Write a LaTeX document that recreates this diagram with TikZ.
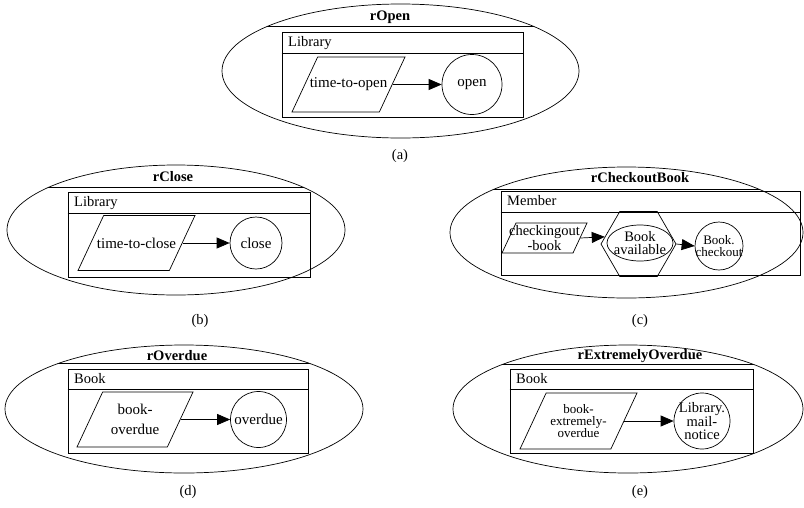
\documentclass[tikz,border=0pt]{standalone}
\usepackage{fontspec}
\setmainfont{Liberation Serif}
\usetikzlibrary{arrows.meta,shapes.geometric,calc}
\newcommand{\PTitle}{\fontsize{14.5}{17}\selectfont\bfseries}
\newcommand{\PText}{\fontsize{15}{20}\selectfont}
\newcommand{\PClass}{\fontsize{14.5}{17}\selectfont}
\newcommand{\PTight}{\fontsize{13}{12}\selectfont}
\newcommand{\PSquash}{\fontsize{14.5}{13}\selectfont}
\newcommand{\evslant}{65}

\begin{document}
\begin{tikzpicture}[x=1pt, y=-1pt,
  font=\PText,
  rulebox/.style={draw, ellipse, line width=0.7pt, inner sep=0pt},
  objbox/.style={draw, rectangle, line width=0.7pt, inner sep=0pt},
  thinline/.style={line width=0.7pt},
  title/.style={font=\PTitle, inner sep=0pt},
  clsname/.style={anchor=west, font=\PClass, inner sep=0pt},
  % parallelogram of given width and height (text goes in as a centre label)
  event/.style 2 args={draw, trapezium, trapezium left angle=\evslant,
                trapezium right angle=180-\evslant, line width=0.7pt,
                inner ysep=#2/2, inner xsep={#1/2-#2/tan(\evslant)}},
  evtext/.style={align=center, inner sep=0pt},
  state/.style={draw, circle, line width=0.7pt, inner sep=0pt, align=center},
  cond/.style={draw, regular polygon, regular polygon sides=6, line width=0.7pt,
               inner sep=0pt},
  condin/.style={draw, ellipse, line width=0.7pt, align=center},
  flow/.style={-{Triangle[length=13pt,width=11pt]}, line width=0.7pt},
  caption/.style={font=\PClass}
]
\useasboundingbox (0,0) rectangle (804,507);

% (a) rOpen
\node[rulebox, minimum width=357pt, minimum height=134pt] (openRule) at (400.5,71) {};
\node[title] (openTitle) at (390,17) {rOpen};
\node[objbox, minimum width=241pt, minimum height=85pt] (openObj) at (402.5,74.5) {};
\node[clsname] (openCls) at (288,43) {Library};
\node[event={113}{55}, label={[evtext]center:time-to-open}] (openEvt) at (348.5,84.5) {};
\node[state, minimum size=60pt] (openState) at (472,84.5) {open};
\draw[flow] (openEvt.east) -- (openState.west);
\node[caption] (openCap) at (400,156) {(a)};

% (b) rClose
\node[rulebox, minimum width=338pt, minimum height=130pt] (closeRule) at (176,230) {};
\node[title] (closeTitle) at (173,177) {rClose};
\node[objbox, minimum width=242pt, minimum height=85pt] (closeObj) at (189,234.5) {};
\node[clsname] (closeCls) at (74,203) {Library};
\node[event={117}{55}, label={[evtext]center:time-to-close}] (closeEvt) at (136.5,243) {};
\node[state, minimum size=52pt] (closeState) at (256,243) {close};
\draw[flow] (closeEvt.east) -- (closeState.west);
\node[caption] (closeCap) at (200,321) {(b)};

% (c) rCheckoutBook
\node[rulebox, minimum width=353pt, minimum height=131pt] (chkRule) at (626.5,232.5) {};
\node[title] (chkTitle) at (640,178) {rCheckoutBook};
\node[objbox, minimum width=299pt, minimum height=84pt] (chkObj) at (650.5,233) {};
\node[clsname] (chkCls) at (507,201) {Member};
\node[event={85}{30}, label={[evtext, font=\PSquash]center:checkingout\\-book}] (chkEvt)
  at (544.5,238) {};
\node[cond, minimum size=75pt] (chkCond) at (638.5,244) {};
\node[condin, font=\PSquash, inner xsep=-4pt, inner ysep=-1pt, minimum width=66pt,
      minimum height=36pt] (chkAvail) at (640,243) {Book\\available};
\node[state, font=\PTight, inner sep=-4pt, minimum size=48pt] (chkState) at (719,246)
  {Book.\\checkout};
\draw[flow] (chkEvt.east) -- (chkCond.168);
\draw[flow] (chkCond.east) -- (chkState.west);
\node[caption] (chkCap) at (640,321) {(c)};

% (d) rOverdue
\node[rulebox, minimum width=358pt, minimum height=128pt] (odRule) at (184,409) {};
\node[title] (odTitle) at (177,356) {rOverdue};
\node[objbox, minimum width=240pt, minimum height=84pt] (odObj) at (188,411) {};
\node[clsname] (odCls) at (74,379) {Book};
\node[event={116}{55}, label={[evtext]center:book-\\overdue}] (odEvt) at (135,419.5) {};
\node[state, minimum size=56pt] (odState) at (258.5,419.5) {overdue};
\draw[flow] (odEvt.east) -- (odState.west);
\node[caption] (odCap) at (188,492) {(d)};

% (e) rExtremelyOverdue
\node[rulebox, minimum width=350pt, minimum height=128pt] (xodRule) at (628,409) {};
\node[title] (xodTitle) at (640,356) {rExtremelyOverdue};
\node[objbox, minimum width=243pt, minimum height=84pt] (xodObj) at (631.5,411) {};
\node[clsname] (xodCls) at (516,379) {Book};
\node[event={117}{56}, label={[evtext, font=\PTight]center:book-\\extremely-\\overdue}]
  (xodEvt) at (578.5,421) {};
\node[state, font=\PSquash, inner sep=-5pt, minimum size=56pt] (xodState) at (702,421)
  {Library.\\mail-\\notice};
\draw[flow] (xodEvt.east) -- (xodState.west);
\node[caption] (xodCap) at (640,492) {(e)};

% Header lines of the object boxes.
\foreach \o/\sy in {openObj/53, closeObj/213, chkObj/212, odObj/389, xodObj/389}
  \draw[thinline] (\o.west |- 0,\sy) -- (\o.east |- 0,\sy);

% Title chords, cut off at the rule ellipses.
\foreach \r/\cy/\rx/\ry in {openRule/26/178.5/67, closeRule/187/169/65,
    chkRule/189/176.5/65.5, odRule/363/179/64, xodRule/364/175/64}{
  \begin{scope}
    \clip (\r.center) ellipse [x radius=\rx pt, y radius=\ry pt];
    \draw[thinline] (\r.west |- 0,\cy) -- (\r.east |- 0,\cy);
  \end{scope}}
\end{tikzpicture}
\end{document}
